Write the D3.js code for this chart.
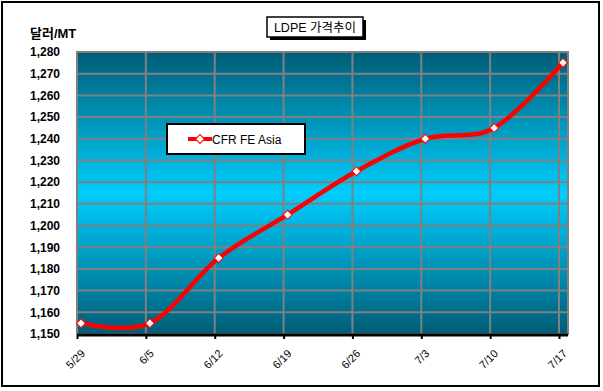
<!DOCTYPE html>
<html>
<head>
<meta charset="utf-8">
<script src="https://cdn.jsdelivr.net/npm/d3@7"></script>
<style>
  body { margin: 0; background: #fff; }
  svg { display: block; }
  text { font-family: Arial, "Liberation Sans", "Noto Sans CJK KR", sans-serif; }
</style>
</head>
<body>
<script>
// data
var dates = ["5/29", "6/5", "6/12", "6/19", "6/26", "7/3", "7/10", "7/17"];
var cfrFeAsia = [1155, 1155, 1185, 1205, 1225, 1240, 1245, 1275];
var yTicks = [1150, 1160, 1170, 1180, 1190, 1200, 1210, 1220, 1230, 1240, 1250, 1260, 1270, 1280];
var seriesName = "CFR FE Asia";
var chartTitle = "LDPE 가격추이";
var yUnit = "달러/MT";

var W = 603, H = 391;
var plot = { left: 77, top: 52, right: 568, bottom: 334 };
var gridShift = 4; // Excel draws gridlines a bit left of the category points

var svg = d3.select("body").append("svg")
    .attr("width", W)
    .attr("height", H);

// outer frame
svg.append("rect")
    .attr("x", 2).attr("y", 2)
    .attr("width", 597).attr("height", 384)
    .attr("fill", "#fff")
    .attr("stroke", "#000")
    .attr("stroke-width", 2);

var defs = svg.append("defs");
var grad = defs.append("linearGradient")
    .attr("id", "bg")
    .attr("x1", 0).attr("y1", 0).attr("x2", 0).attr("y2", 1);
grad.append("stop").attr("offset", "0%").attr("stop-color", "#005d77");
grad.append("stop").attr("offset", "50%").attr("stop-color", "#00cdfd");
grad.append("stop").attr("offset", "100%").attr("stop-color", "#005d77");

var x = d3.scaleLinear()
    .domain([0, dates.length - 1])
    .range([plot.left + gridShift, plot.right - 5]);

var y = d3.scaleLinear()
    .domain([d3.min(yTicks), d3.max(yTicks)])
    .range([plot.bottom, plot.top]);

svg.append("rect")
    .attr("x", plot.left).attr("y", plot.top)
    .attr("width", plot.right - plot.left)
    .attr("height", plot.bottom - plot.top)
    .attr("fill", "url(#bg)");

// horizontal gridlines
svg.append("g").selectAll("line")
    .data(yTicks)
    .join("line")
    .attr("x1", plot.left).attr("x2", plot.right)
    .attr("y1", function (d) { return y(d); })
    .attr("y2", function (d) { return y(d); })
    .attr("stroke", "#808080")
    .attr("stroke-width", 2);

// vertical gridlines
svg.append("g").selectAll("line")
    .data(d3.range(1, dates.length))
    .join("line")
    .attr("x1", function (i) { return x(i) - gridShift; })
    .attr("x2", function (i) { return x(i) - gridShift; })
    .attr("y1", plot.top).attr("y2", plot.bottom)
    .attr("stroke", "#808080")
    .attr("stroke-width", 2);

// plot border
svg.append("rect")
    .attr("x", plot.left).attr("y", plot.top)
    .attr("width", plot.right - plot.left)
    .attr("height", plot.bottom - plot.top)
    .attr("fill", "none")
    .attr("stroke", "#808080")
    .attr("stroke-width", 2);

// y axis labels
var yAxis = d3.axisLeft(y)
    .tickValues(yTicks)
    .tickFormat(d3.format(","))
    .tickSize(0)
    .tickPadding(17);

var yG = svg.append("g")
    .attr("transform", "translate(" + plot.left + ",0)")
    .call(yAxis);
yG.select(".domain").remove();
yG.selectAll("text")
    .attr("font-size", 12)
    .attr("font-weight", "bold")
    .attr("fill", "#000");

// x axis
var xAxis = d3.axisBottom(x)
    .tickValues(d3.range(dates.length))
    .tickFormat(function (i) { return dates[i]; })
    .tickSize(4)
    .tickSizeOuter(0);

var xG = svg.append("g")
    .attr("transform", "translate(" + (-gridShift) + "," + (plot.bottom + 1) + ")")
    .call(xAxis);
xG.select(".domain")
    .attr("d", "M" + (plot.left + gridShift) + ",0H" + (plot.right + gridShift))
    .attr("stroke", "#000")
    .attr("stroke-width", 3);
xG.selectAll(".tick line").attr("stroke", "#000").attr("stroke-width", 2);
xG.selectAll(".tick text")
    .attr("font-size", 11)
    .attr("fill", "#000")
    .attr("text-anchor", "end")
    .attr("dy", null)
    .attr("transform", "translate(4,15) rotate(-45)")
    .attr("y", 6)
    .attr("x", 0);

// series line
var line = d3.line()
    .x(function (d, i) { return x(i); })
    .y(function (d) { return y(d); })
    .curve(d3.curveCardinal.tension(0));

svg.append("path")
    .datum(cfrFeAsia)
    .attr("d", line)
    .attr("fill", "none")
    .attr("stroke", "#ff0000")
    .attr("stroke-width", 4.5)
    .attr("stroke-linejoin", "round");

// square turned 45 degrees = even diamond like Excel's marker
var diamond = d3.symbol().type(d3.symbolSquare).size(40);

svg.append("g").selectAll("path")
    .data(cfrFeAsia)
    .join("path")
    .attr("d", diamond)
    .attr("transform", function (d, i) { return "translate(" + x(i) + "," + y(d) + ") rotate(45)"; })
    .attr("fill", "#fff")
    .attr("stroke", "#ff0000")
    .attr("stroke-width", 1);

// legend
var lg = svg.append("g").attr("transform", "translate(167,124)");
lg.append("rect")
    .attr("width", 138).attr("height", 30)
    .attr("fill", "#fff")
    .attr("stroke", "#000")
    .attr("stroke-width", 2);
lg.append("line")
    .attr("x1", 21).attr("x2", 45)
    .attr("y1", 15).attr("y2", 15)
    .attr("stroke", "#ff0000")
    .attr("stroke-width", 4);
lg.append("path")
    .attr("d", diamond)
    .attr("transform", "translate(33,15) rotate(45)")
    .attr("fill", "#fff")
    .attr("stroke", "#ff0000")
    .attr("stroke-width", 1);
lg.append("text")
    .attr("x", 45).attr("y", 19.5)
    .attr("font-size", 12)
    .attr("fill", "#000")
    .text(seriesName);

// title box with shadow
var tg = svg.append("g").attr("transform", "translate(267,17)");
tg.append("rect")
    .attr("x", 3).attr("y", 3)
    .attr("width", 96).attr("height", 20)
    .attr("fill", "#000");
tg.append("rect")
    .attr("width", 96).attr("height", 20)
    .attr("fill", "#fff")
    .attr("stroke", "#000")
    .attr("stroke-width", 1.5);
tg.append("text")
    .attr("x", 48).attr("y", 14.5)
    .attr("text-anchor", "middle")
    .attr("font-size", 12.5)
    .attr("fill", "#000")
    .text(chartTitle);

// unit label
svg.append("text")
    .attr("x", 30).attr("y", 38)
    .attr("font-size", 13)
    .attr("font-weight", "bold")
    .attr("fill", "#000")
    .text(yUnit);
</script>
</body>
</html>
